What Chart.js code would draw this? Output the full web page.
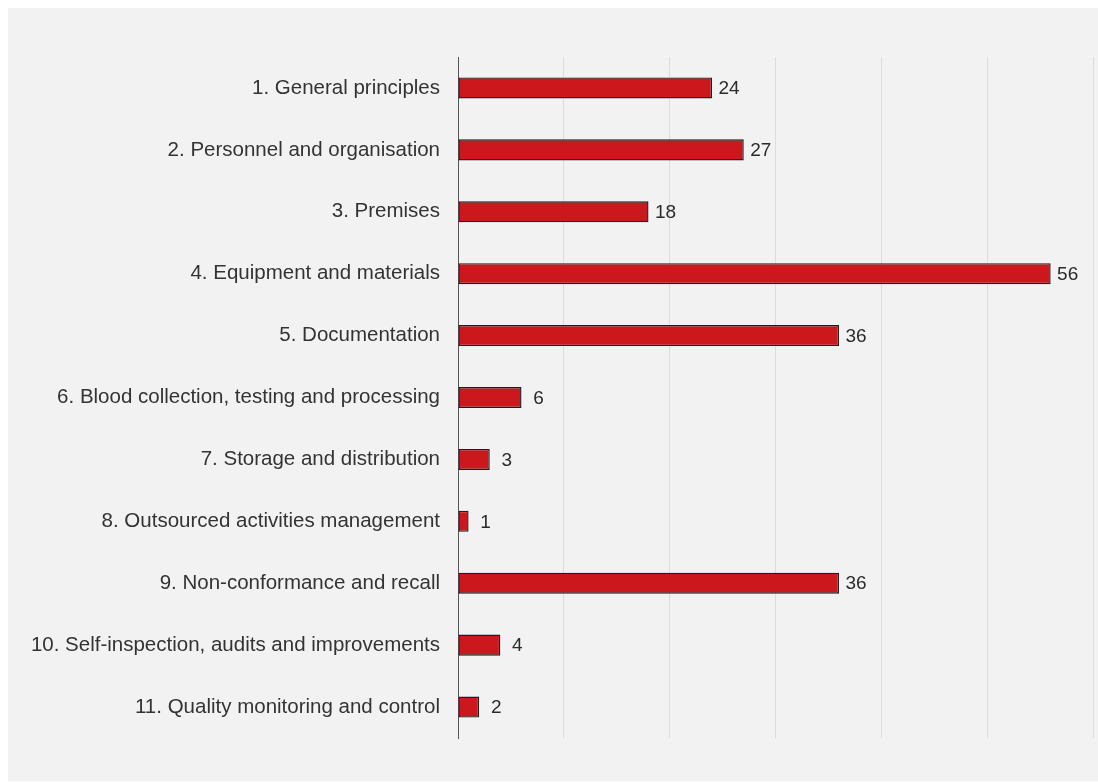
<!DOCTYPE html>
<html>
<head>
<meta charset="utf-8">
<script src="https://cdn.jsdelivr.net/npm/chart.js@4.4.1/dist/chart.umd.min.js"></script>
<style>
  html, body { margin: 0; padding: 0; background: #fff; overflow: hidden; }
  .panel { position: absolute; left: 8px; top: 8px; width: 1090px; height: 773px; background: #f2f2f2; }
</style>
</head>
<body>
<div class="panel"><canvas id="findingsChart" width="1090" height="773"></canvas></div>
<script>
// Findings per chapter
const categories = [
    '1. General principles',
    '2. Personnel and organisation',
    '3. Premises',
    '4. Equipment and materials',
    '5. Documentation',
    '6. Blood collection, testing and processing',
    '7. Storage and distribution',
    '8. Outsourced activities management',
    '9. Non-conformance and recall',
    '10. Self-inspection, audits and improvements',
    '11. Quality monitoring and control'
];
const findings = [24, 27, 18, 56, 36, 6, 3, 1, 36, 4, 2];
const xMax = 60;
const xStep = 10;

const fontFamily = "'Helvetica Neue', 'Liberation Sans', Arial, sans-serif";

// Value labels next to each bar
const valueLabels = {
    id: 'valueLabels',
    afterDatasetsDraw(chart) {
        const ctx = chart.ctx;
        const meta = chart.getDatasetMeta(0);
        ctx.save();
        ctx.font = '19px ' + fontFamily;
        ctx.fillStyle = '#2b2b2b';
        ctx.textAlign = 'center';
        ctx.textBaseline = 'middle';
        meta.data.forEach((bar, i) => {
            ctx.fillText(String(findings[i]), bar.x + 17, bar.y + 1);
        });
        ctx.restore();
    }
};

const ctx = document.getElementById('findingsChart').getContext('2d');
new Chart(ctx, {
    type: 'bar',
    data: {
        labels: categories,
        datasets: [{
            data: findings,
            backgroundColor: '#cc181c',
            borderColor: '#1e1e1e',
            borderWidth: 1.4,
            borderSkipped: false,
            barPercentage: 0.68,
            categoryPercentage: 0.5
        }]
    },
    options: {
        indexAxis: 'y',
        responsive: false,
        animation: false,
        layout: { padding: { top: 49, bottom: 43, right: 5, left: 0 } },
        plugins: { legend: { display: false }, tooltip: { enabled: false } },
        scales: {
            x: {
                min: 0,
                max: xMax,
                ticks: { display: false, stepSize: xStep },
                grid: { color: '#dcdcdc', drawTicks: false },
                border: { display: false },
                afterFit: (scale) => { scale.height = 0; }
            },
            y: {
                ticks: { color: '#333', padding: 18, font: { family: fontFamily, size: 20.5 } },
                grid: { display: false, drawTicks: false },
                border: { display: true, color: '#555', width: 1 },
                afterFit: (scale) => { scale.width = 450; }
            }
        }
    },
    plugins: [valueLabels]
});
</script>
</body>
</html>
